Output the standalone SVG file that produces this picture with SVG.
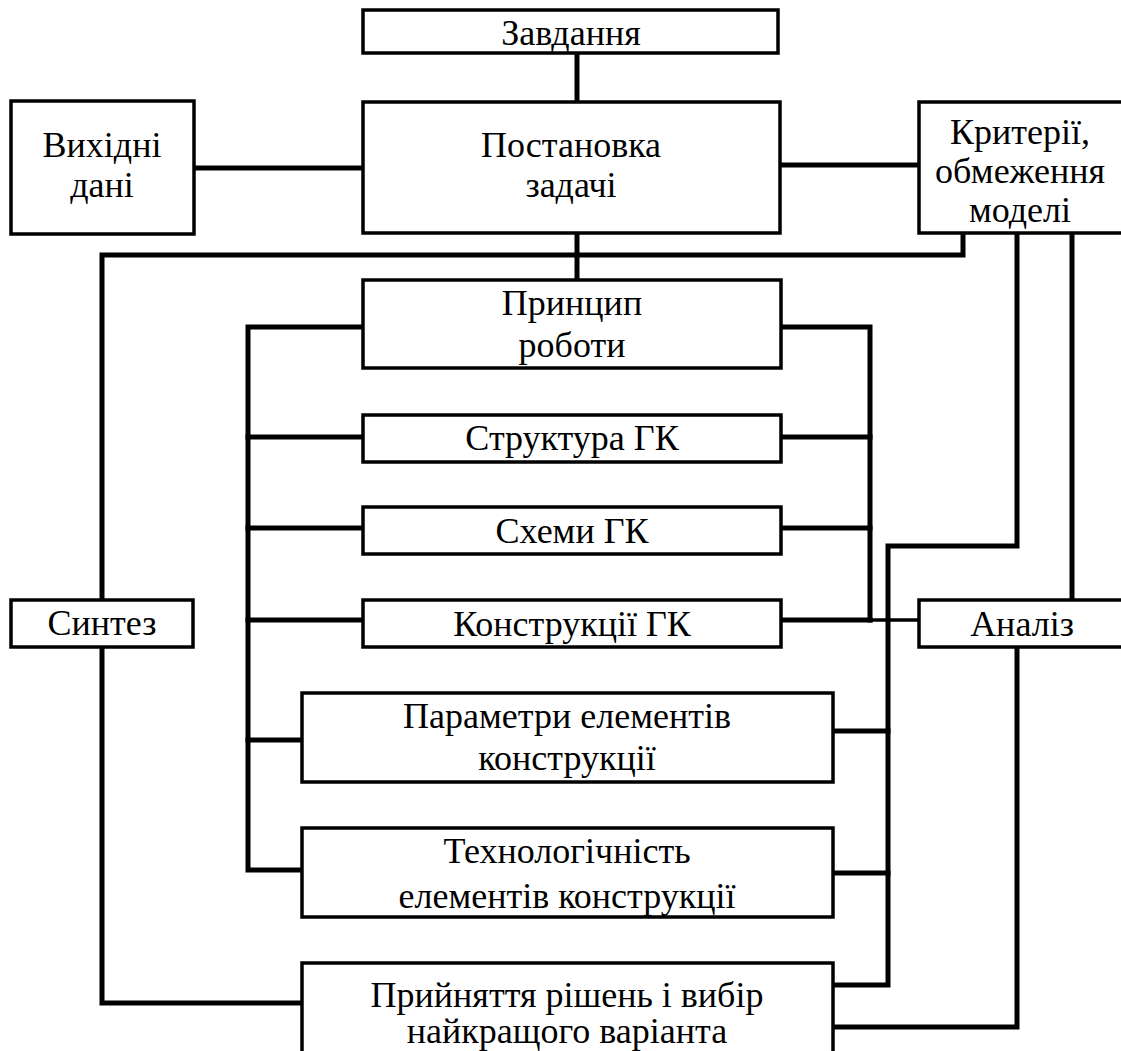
<svg xmlns="http://www.w3.org/2000/svg" width="1121" height="1051" viewBox="0 0 1121 1051">
<style>
.box{fill:#fff;stroke:#000;stroke-width:3.5}
.t{font-family:"Liberation Serif","Times New Roman",serif;font-size:36px;fill:#000;text-anchor:middle}
.c{fill:none;stroke:#000;stroke-width:5;stroke-linejoin:miter;stroke-linecap:square}
.c2{fill:none;stroke:#000;stroke-width:3.5}
</style>
<rect width="1121" height="1051" fill="#fff"/>
<g id="connectors">
<path class="c" d="M577,53V102"/>
<path class="c" d="M194,168H363"/>
<path class="c" d="M780,165H919"/>
<path class="c" d="M577,233V280"/>
<path class="c" d="M963,233V255H102V600"/>
<path class="c" d="M102,647V1003H302"/>
<path class="c" d="M363,327H248V870H302"/>
<path class="c" d="M248,437H363M248,528H363M248,620H363M248,740H302"/>
<path class="c" d="M781,327H870V620"/>
<path class="c" d="M781,437H870M781,528H870M781,620H870"/>
<path class="c2" d="M870,620H919"/>
<path class="c" d="M1017,233V546H888V985H833"/>
<path class="c" d="M833,731H888M833,873H888"/>
<path class="c" d="M1072,233V600"/>
<path class="c" d="M1017,647V1027H833"/>
</g>
<g id="zavdannia"><rect class="box" x="363" y="10" width="415" height="43"/><text class="t" x="571" y="45">Завдання</text></g>
<g id="vykhidni"><rect class="box" x="11" y="101" width="183" height="133"/><text class="t" x="102" y="157">Вихідні</text><text class="t" x="102" y="197">дані</text></g>
<g id="postanovka"><rect class="box" x="363" y="102" width="417" height="131"/><text class="t" x="571" y="157">Постановка</text><text class="t" x="571" y="197">задачі</text></g>
<g id="kryterii"><rect class="box" x="919" y="102" width="210" height="131"/><text class="t" x="1020" y="144">Критерії,</text><text class="t" x="1020" y="183">обмеження</text><text class="t" x="1020" y="222">моделі</text></g>
<g id="pryntsyp"><rect class="box" x="363" y="280" width="418" height="88"/><text class="t" x="572" y="315">Принцип</text><text class="t" x="572" y="357">роботи</text></g>
<g id="struktura"><rect class="box" x="363" y="415" width="418" height="47"/><text class="t" x="572" y="450">Структура ГК</text></g>
<g id="skhemy"><rect class="box" x="363" y="507" width="418" height="47"/><text class="t" x="572" y="543">Схеми ГК</text></g>
<g id="konstruktsii"><rect class="box" x="363" y="600" width="418" height="47"/><text class="t" x="572" y="636">Конструкції ГК</text></g>
<g id="syntez"><rect class="box" x="11" y="600" width="182" height="47"/><text class="t" x="102" y="635">Синтез</text></g>
<g id="analiz"><rect class="box" x="919" y="600" width="210" height="47"/><text class="t" x="1022" y="636">Аналіз</text></g>
<g id="parametry"><rect class="box" x="302" y="693" width="531" height="89"/><text class="t" x="567" y="728">Параметри елементів</text><text class="t" x="567" y="770">конструкції</text></g>
<g id="tekhnolohichnist"><rect class="box" x="302" y="828" width="531" height="89"/><text class="t" x="567" y="863">Технологічність</text><text class="t" x="567" y="908">елементів конструкції</text></g>
<g id="pryiniattia"><rect class="box" x="302" y="963" width="531" height="100"/><text class="t" x="567" y="1007">Прийняття рішень і вибір</text><text class="t" x="567" y="1043">найкращого варіанта</text></g>
</svg>
